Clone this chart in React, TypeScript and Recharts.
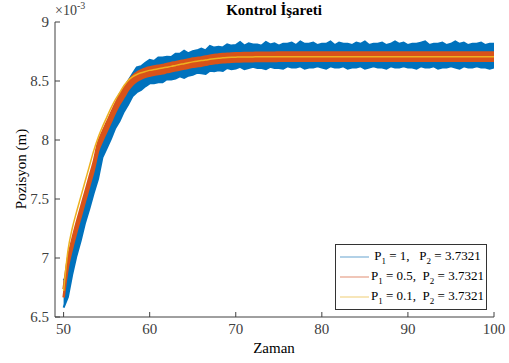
import React from 'react';
import { ComposedChart, Area, Line, XAxis, YAxis } from 'recharts';

// time (Zaman)
const time: number[] = [
  50, 50.5, 51, 51.5, 52, 52.5, 53, 53.5, 54, 54.5,
  55, 55.5, 56, 56.5, 57, 57.5, 58, 58.5, 59, 59.5,
  60, 60.5, 61, 61.5, 62, 62.5, 63, 63.5, 64, 64.5,
  65, 65.5, 66, 66.5, 67, 67.5, 68, 68.5, 69, 69.5,
  70, 70.5, 71, 71.5, 72, 72.5, 73, 73.5, 74, 74.5,
  75, 75.5, 76, 76.5, 77, 77.5, 78, 78.5, 79, 79.5,
  80, 80.5, 81, 81.5, 82, 82.5, 83, 83.5, 84, 84.5,
  85, 85.5, 86, 86.5, 87, 87.5, 88, 88.5, 89, 89.5,
  90, 90.5, 91, 91.5, 92, 92.5, 93, 93.5, 94, 94.5,
  95, 95.5, 96, 96.5, 97, 97.5, 98, 98.5, 99, 99.5,
  100,
];

// P1 = 1 (blue, noisy): centre and read noise envelope (x1e-3 m)
const blueMid: number[] = [
  6.69, 6.76, 6.96, 7.12, 7.26, 7.39, 7.52, 7.65, 7.78, 7.94,
  8.03, 8.11, 8.19, 8.27, 8.34, 8.40, 8.46, 8.505, 8.535, 8.555,
  8.57, 8.58, 8.59, 8.60, 8.605, 8.613, 8.62, 8.63, 8.637, 8.645,
  8.652, 8.66, 8.665, 8.67, 8.677, 8.683, 8.69, 8.695, 8.70, 8.70,
  8.705, 8.71, 8.71, 8.71, 8.71, 8.71, 8.71, 8.71, 8.71, 8.71,
  8.71, 8.715, 8.715, 8.715, 8.715, 8.715, 8.715, 8.715, 8.715, 8.715,
  8.715, 8.715, 8.715, 8.715, 8.715, 8.715, 8.715, 8.715, 8.715, 8.715,
  8.715, 8.715, 8.715, 8.715, 8.715, 8.715, 8.715, 8.715, 8.715, 8.715,
  8.715, 8.715, 8.715, 8.715, 8.715, 8.715, 8.715, 8.715, 8.715, 8.715,
  8.715, 8.715, 8.715, 8.715, 8.715, 8.715, 8.715, 8.715, 8.715, 8.715,
  8.715,
];
const blueUp: number[] = [
  0.12, 0.10, 0.09, 0.11, 0.09, 0.10, 0.10, 0.12, 0.09, 0.10,
  0.09, 0.11, 0.10, 0.12, 0.09, 0.10, 0.10, 0.11, 0.09, 0.10,
  0.11, 0.09, 0.11, 0.10, 0.10, 0.09, 0.11, 0.10, 0.12, 0.09,
  0.10, 0.10, 0.11, 0.09, 0.12, 0.10, 0.10, 0.09, 0.11, 0.10,
  0.10, 0.12, 0.09, 0.11, 0.10, 0.10, 0.09, 0.12, 0.10, 0.11,
  0.09, 0.10, 0.10, 0.11, 0.09, 0.12, 0.10, 0.10, 0.11, 0.09,
  0.10, 0.10, 0.12, 0.09, 0.11, 0.10, 0.10, 0.09, 0.11, 0.10,
  0.12, 0.09, 0.10, 0.10, 0.11, 0.09, 0.10, 0.12, 0.10, 0.11,
  0.09, 0.10, 0.10, 0.11, 0.12, 0.09, 0.10, 0.10, 0.11, 0.09,
  0.10, 0.12, 0.10, 0.11, 0.09, 0.10, 0.10, 0.11, 0.09, 0.10,
  0.10,
];
const blueDown: number[] = [
  0.11, 0.09, 0.10, 0.10, 0.11, 0.09, 0.10, 0.10, 0.11, 0.09,
  0.10, 0.10, 0.09, 0.11, 0.10, 0.10, 0.09, 0.10, 0.11, 0.10,
  0.09, 0.10, 0.10, 0.11, 0.09, 0.10, 0.10, 0.09, 0.11, 0.10,
  0.10, 0.09, 0.10, 0.11, 0.09, 0.10, 0.10, 0.11, 0.09, 0.10,
  0.10, 0.09, 0.11, 0.10, 0.09, 0.10, 0.10, 0.11, 0.09, 0.10,
  0.10, 0.11, 0.09, 0.10, 0.10, 0.09, 0.11, 0.10, 0.10, 0.09,
  0.10, 0.11, 0.09, 0.10, 0.10, 0.09, 0.11, 0.10, 0.10, 0.09,
  0.11, 0.10, 0.09, 0.10, 0.10, 0.11, 0.09, 0.10, 0.10, 0.09,
  0.10, 0.10, 0.11, 0.09, 0.10, 0.10, 0.09, 0.11, 0.10, 0.10,
  0.09, 0.10, 0.11, 0.09, 0.10, 0.10, 0.09, 0.10, 0.10, 0.11,
  0.10,
];

// P1 = 0.5 (orange)
const orange: number[] = [
  6.70, 6.96, 7.12, 7.26, 7.39, 7.52, 7.65, 7.78, 7.94, 8.03,
  8.11, 8.19, 8.27, 8.34, 8.40, 8.46, 8.505, 8.535, 8.555, 8.57,
  8.58, 8.588, 8.595, 8.60, 8.61, 8.617, 8.625, 8.632, 8.64, 8.647,
  8.655, 8.66, 8.665, 8.672, 8.68, 8.685, 8.69, 8.693, 8.695, 8.698,
  8.70, 8.701, 8.702, 8.703, 8.703, 8.704, 8.704, 8.705, 8.705, 8.705,
  8.706, 8.706, 8.706, 8.706, 8.706, 8.706, 8.706, 8.706, 8.706, 8.706,
  8.706, 8.706, 8.706, 8.706, 8.706, 8.706, 8.706, 8.706, 8.706, 8.706,
  8.706, 8.706, 8.706, 8.706, 8.706, 8.706, 8.706, 8.706, 8.706, 8.706,
  8.706, 8.706, 8.706, 8.706, 8.706, 8.706, 8.706, 8.706, 8.706, 8.706,
  8.706, 8.706, 8.706, 8.706, 8.706, 8.706, 8.706, 8.706, 8.706, 8.706,
  8.706,
];
const orangeNoise = 0.035;

// P1 = 0.1 (yellow)
const yellow: number[] = [
  6.72, 7.06, 7.25, 7.39, 7.52, 7.65, 7.78, 7.91, 8.02, 8.11,
  8.19, 8.27, 8.34, 8.40, 8.46, 8.505, 8.535, 8.555, 8.57, 8.58,
  8.59, 8.597, 8.603, 8.61, 8.617, 8.624, 8.632, 8.64, 8.647, 8.655,
  8.662, 8.668, 8.673, 8.678, 8.684, 8.689, 8.693, 8.696, 8.699, 8.701,
  8.702, 8.703, 8.703, 8.704, 8.704, 8.705, 8.705, 8.705, 8.706, 8.706,
  8.706, 8.706, 8.706, 8.706, 8.706, 8.706, 8.706, 8.706, 8.706, 8.706,
  8.706, 8.706, 8.706, 8.706, 8.706, 8.706, 8.706, 8.706, 8.706, 8.706,
  8.706, 8.706, 8.706, 8.706, 8.706, 8.706, 8.706, 8.706, 8.706, 8.706,
  8.706, 8.706, 8.706, 8.706, 8.706, 8.706, 8.706, 8.706, 8.706, 8.706,
  8.706, 8.706, 8.706, 8.706, 8.706, 8.706, 8.706, 8.706, 8.706, 8.706,
  8.706,
];

const xTicks: number[] = [50, 60, 70, 80, 90, 100];
const yTicks: number[] = [6.5, 7, 7.5, 8, 8.5, 9];

const legendItems = [
  { p1: '1,', gap: '\u00a0\u00a0\u00a0', color: '#7fb2d8', lead: '\u00a0' },
  { p1: '0.5,', gap: '\u00a0\u00a0', color: '#e6a089', lead: '' },
  { p1: '0.1,', gap: '\u00a0\u00a0', color: '#f2d58a', lead: '' },
];
const p2Value = '3.7321';

const data = time.map((t, i) => ({
  t,
  blue: [blueMid[i] - blueDown[i], blueMid[i] + blueUp[i]],
  orangeBand: [orange[i] - orangeNoise, orange[i] + orangeNoise],
  yellow: yellow[i],
}));

const FONT = '"Liberation Serif", Tinos, "Times New Roman", "DejaVu Serif", serif';
const AXIS = '#404040';

export default function App() {
  return (
    <div
      style={{
        position: 'absolute',
        left: 0,
        top: 0,
        width: 509,
        height: 363,
        background: '#fff',
        fontFamily: FONT,
        overflow: 'hidden',
      }}
    >
      <ComposedChart
        width={509}
        height={363}
        data={data}
        margin={{ top: 22, right: 15, bottom: 0, left: 0 }}
        style={{ fontFamily: FONT }}
      >
        <XAxis
          dataKey="t"
          type="number"
          domain={[49, 100]}
          ticks={xTicks}
          allowDataOverflow
          height={46}
          tickSize={-5}
          tickMargin={11}
          stroke={AXIS}
          tick={{ fill: AXIS, fontSize: 15, fontFamily: FONT }}
        />
        <XAxis
          xAxisId="top"
          orientation="top"
          type="number"
          domain={[49, 100]}
          ticks={xTicks}
          allowDataOverflow
          height={0}
          tickSize={-5}
          tick={false}
          stroke={AXIS}
        />
        <YAxis
          type="number"
          domain={[6.5, 9]}
          ticks={yTicks}
          allowDataOverflow
          width={55}
          tickSize={-5}
          tickMargin={11}
          stroke={AXIS}
          tick={{ fill: AXIS, fontSize: 15, fontFamily: FONT }}
        />
        <YAxis
          yAxisId="right"
          orientation="right"
          type="number"
          domain={[6.5, 9]}
          ticks={yTicks}
          allowDataOverflow
          width={0}
          tickSize={-5}
          tick={false}
          stroke={AXIS}
        />
        <Area
          dataKey="blue"
          type="linear"
          stroke="#0072BD"
          strokeWidth={2}
          fill="#0072BD"
          fillOpacity={1}
          isAnimationActive={false}
          dot={false}
          activeDot={false}
        />
        <Area
          dataKey="orangeBand"
          type="monotone"
          stroke="#D95319"
          strokeWidth={2.5}
          fill="#D95319"
          fillOpacity={1}
          isAnimationActive={false}
          dot={false}
          activeDot={false}
        />
        <Line
          dataKey="yellow"
          type="monotone"
          stroke="#EDB120"
          strokeWidth={1.5}
          dot={false}
          activeDot={false}
          isAnimationActive={false}
        />
      </ComposedChart>

      {/* title */}
      <div
        style={{
          position: 'absolute',
          left: 174,
          width: 200,
          top: 2,
          textAlign: 'center',
          fontWeight: 'bold',
          fontSize: 15,
          color: '#000',
        }}
      >
        Kontrol İşareti
      </div>

      {/* exponent */}
      <div style={{ position: 'absolute', left: 55, top: 3, fontSize: 14, color: AXIS }}>
        ×10<sup style={{ fontSize: 10, verticalAlign: 'top', position: 'relative', top: -3 }}>-3</sup>
      </div>

      {/* x label */}
      <div
        style={{
          position: 'absolute',
          left: 224,
          width: 100,
          top: 340,
          textAlign: 'center',
          fontSize: 15,
          color: '#000',
        }}
      >
        Zaman
      </div>

      {/* y label */}
      <div
        style={{
          position: 'absolute',
          left: 21,
          top: 169,
          fontSize: 15,
          color: '#000',
          whiteSpace: 'nowrap',
          transform: 'translate(-50%, -50%) rotate(-90deg)',
        }}
      >
        Pozisyon (m)
      </div>

      {/* legend */}
      <div
        style={{
          position: 'absolute',
          left: 335,
          top: 244,
          width: 150,
          height: 64,
          border: '1px solid #333',
          background: '#fff',
          fontSize: 13,
          color: '#000',
          boxSizing: 'content-box',
        }}
      >
        {legendItems.map((it, i) => (
          <div
            key={i}
            style={{
              position: 'absolute',
              left: 0,
              top: 2 + i * 20,
              height: 20,
              width: 150,
              display: 'flex',
              alignItems: 'center',
              whiteSpace: 'nowrap',
            }}
          >
            <svg width={29} height={4} style={{ marginLeft: 4, marginRight: 2, flex: 'none' }}>
              <line x1={0} y1={2} x2={29} y2={2} stroke={it.color} strokeWidth={1.2} />
            </svg>
            <span>
              {it.lead}P<sub style={{ fontSize: 9 }}>1</sub> = {it.p1}
              {it.gap}P<sub style={{ fontSize: 9 }}>2</sub> = {p2Value}
            </span>
          </div>
        ))}
      </div>
    </div>
  );
}
